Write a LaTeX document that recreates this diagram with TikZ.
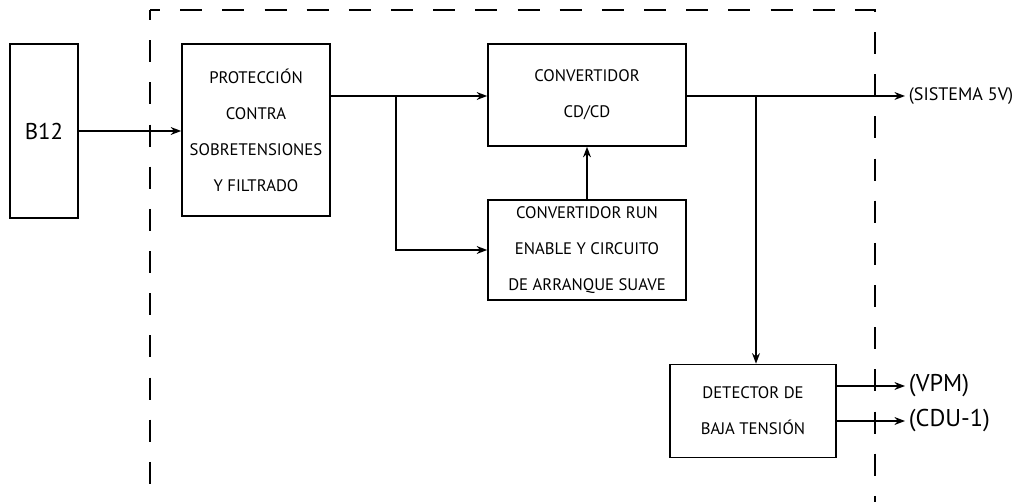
\documentclass[tikz,border=0pt]{standalone}
\usepackage{fontspec}
\setmainfont{PT Sans}
\usetikzlibrary{arrows.meta, positioning}

\begin{document}
\begin{tikzpicture}[x=0.02cm, y=-0.02cm, >={Stealth[length=6pt, width=4.5pt]}]
    \tikzset{
        blk/.style={draw, line width=0.9pt, align=center, inner sep=0pt,
            font=\fontsize{9.5}{20.5}\selectfont},
        wire/.style={->, line width=0.9pt},
        frontera/.style={line width=0.9pt, dash pattern=on 12.5pt off 11.5pt, dash phase=6.8pt},
        outlbl/.style={right, inner sep=2pt},
    }
    \useasboundingbox (0,0) rectangle (1017,502);

    % zona punteada (abierta abajo)
    \draw[frontera] (150,10) -- (150,502);
    \draw[frontera] (150,10) -- (875,10) -- (875,502);

    % bloques
    \node[draw, line width=0.6pt, minimum width=68*0.02cm, minimum height=174*0.02cm,
        font=\fontsize{13}{15}\selectfont] (bat) at (44,131) {B12};
    \node[blk, minimum width=148*0.02cm, minimum height=172*0.02cm] (prot) at (256,130)
        {PROTECCIÓN\\CONTRA\\SOBRETENSIONES\\Y FILTRADO};
    \node[blk, minimum width=198*0.02cm, minimum height=102*0.02cm] (cdcd) at (587,95)
        {CONVERTIDOR\\CD/CD};
    \node[blk, minimum width=198*0.02cm, minimum height=100*0.02cm] (run) at (587,250)
        {CONVERTIDOR RUN\\ENABLE Y CIRCUITO\\DE ARRANQUE SUAVE};
    \node[blk, minimum width=166*0.02cm, minimum height=93*0.02cm] (det) at (753,411)
        {DETECTOR DE\\BAJA TENSIÓN};

    % salidas
    \coordinate (sis) at (905,96);
    \coordinate (vpm) at (905,386);
    \coordinate (cdu) at (905,421);
    \coordinate (ramaA) at (396,96);
    \coordinate (ramaB) at (756,96);

    % conexiones
    \draw[wire] (bat.east |- 0,131) -- (prot.west |- 0,131);
    \draw[wire] (prot.east |- ramaA) -- (cdcd.west |- ramaA);
    \draw[wire] (ramaA) |- (run.west);
    \draw[wire] (run.north) -- (cdcd.south);
    \draw[wire] (cdcd.east |- sis) -- (sis);
    \draw[wire] (ramaB) -- (ramaB |- det.north);
    \draw[wire] (det.east |- vpm) -- (vpm);
    \draw[wire] (det.east |- cdu) -- (cdu);

    \node[outlbl, font=\fontsize{10.3}{12}\selectfont] (lsis) at (sis) {(SISTEMA 5V)};
    \node[outlbl, font=\fontsize{13.8}{16}\selectfont] (lvpm) at (vpm) {(VPM)};
    \node[outlbl, font=\fontsize{13.8}{16}\selectfont] (lcdu) at (cdu) {(CDU-1)};
\end{tikzpicture}
\end{document}
